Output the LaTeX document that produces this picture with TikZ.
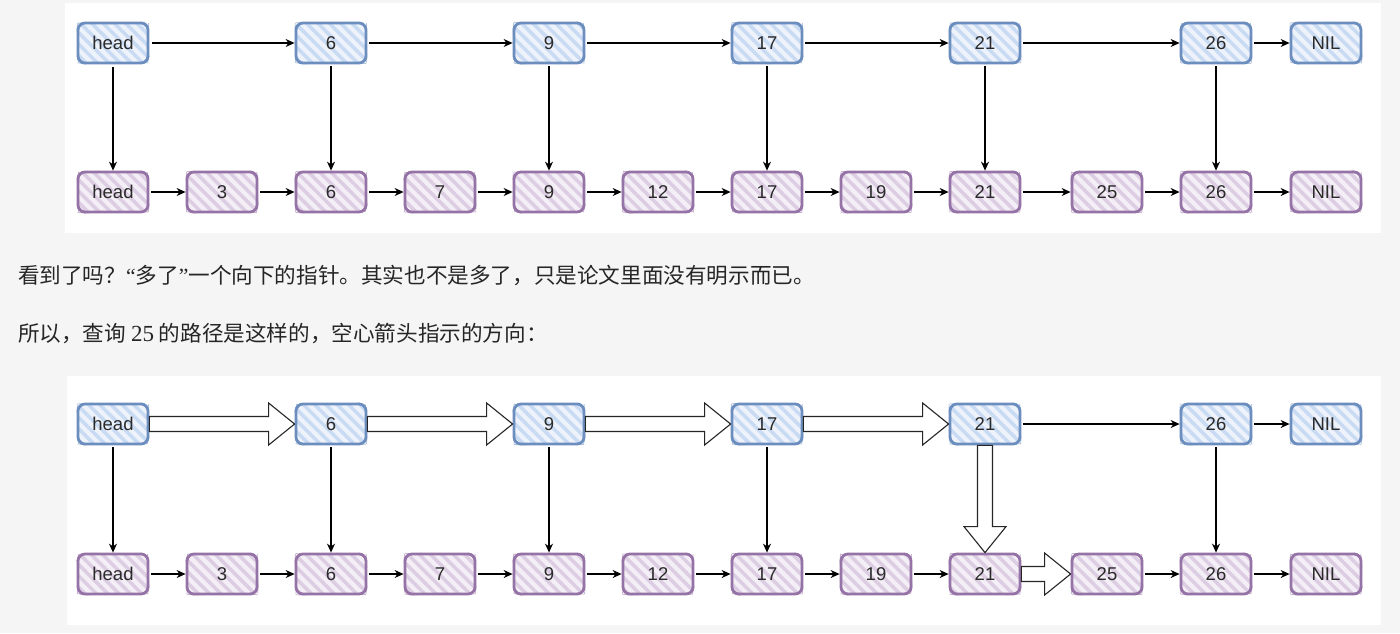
\documentclass[tikz,border=0pt]{standalone}
\usepackage{fontspec}
\setmainfont{Liberation Sans}
\newfontfamily\cjk{Noto Sans CJK SC}
\newfontfamily\qfont{Liberation Serif}
\usetikzlibrary{patterns.meta,decorations.pathmorphing,calc,arrows.meta}
\definecolor{bg}{HTML}{F5F5F5}
\definecolor{bluefill}{HTML}{C9DAF3}
\definecolor{bluebg}{HTML}{EEF3FB}
\definecolor{blueline}{HTML}{6C8EBF}
\definecolor{purfill}{HTML}{DCCDE3}
\definecolor{purbg}{HTML}{F4EFF6}
\definecolor{purline}{HTML}{9673A6}
\definecolor{txt}{HTML}{2A2A2A}
\pgfmathsetseed{7}
\tikzset{
  box/.style={minimum width=70pt, minimum height=40pt, inner sep=0pt,
    rounded corners=7pt, line width=2.8pt, text=txt,
    font=\fontsize{18.5}{18.5}\selectfont,
    postaction={draw, line width=0.8pt, rounded corners=7pt, opacity=0.5,
      decorate, decoration={random steps,segment length=7pt,amplitude=0.8pt}}},
  bnode/.style={box, draw=blueline, preaction={fill=bluebg},
    pattern={Lines[angle=-45,distance=8pt,line width=3.5pt]}, pattern color=bluefill},
  pnode/.style={box, draw=purline, preaction={fill=purbg},
    pattern={Lines[angle=-45,distance=8pt,line width=3.5pt]}, pattern color=purfill},
  conn/.style={-{Stealth[length=9pt,width=8pt]}, line width=1.1pt, black, shorten <=2pt},
  hollow/.style={draw=black!85, fill=white, line width=1.1pt, line join=miter},
  panel/.style={fill=white, draw=none},
  para/.style={anchor=west, text=black!85, font=\cjk\fontsize{21.6}{22}\selectfont, inner sep=0pt}
}
% hollow horizontal arrow from #1 (east) to #2 (west)
\newcommand\hollowH[2]{%
  \draw[hollow] let \p1=(#1.east), \p2=(#2.west) in
    (\x1,\y1+7.5pt) -- (\x2-26pt,\y1+7.5pt) -- (\x2-26pt,\y1+21pt) -- (\x2,\y1)
    -- (\x2-26pt,\y1-21pt) -- (\x2-26pt,\y1-7.5pt) -- (\x1,\y1-7.5pt) -- cycle;}
% hollow vertical arrow from #1 (south) to #2 (north)
\newcommand\hollowV[2]{%
  \draw[hollow] let \p1=(#1.south), \p2=(#2.north) in
    (\x1-7.5pt,\y1) -- (\x1-7.5pt,\y2+26pt) -- (\x1-21pt,\y2+26pt) -- (\x1,\y2)
    -- (\x1+21pt,\y2+26pt) -- (\x1+7.5pt,\y2+26pt) -- (\x1+7.5pt,\y1) -- cycle;}
% the nodes of one panel: #1 prefix, #2 top row y, #3 bottom row y
\newcommand\panelnodes[3]{%
  \node[bnode] (#1th) at (113,#2) {head};
  \node[bnode] (#1t6) at (331,#2) {6};
  \node[bnode] (#1t9) at (549,#2) {9};
  \node[bnode] (#1t17) at (767,#2) {17};
  \node[bnode] (#1t21) at (985,#2) {21};
  \node[bnode] (#1t26) at (1216,#2) {26};
  \node[bnode] (#1tn) at (1326,#2) {NIL};
  \node[pnode] (#1bh) at (113,#3) {head};
  \node[pnode] (#1b3) at (222,#3) {3};
  \node[pnode] (#1b6) at (331,#3) {6};
  \node[pnode] (#1b7) at (440,#3) {7};
  \node[pnode] (#1b9) at (549,#3) {9};
  \node[pnode] (#1b12) at (658,#3) {12};
  \node[pnode] (#1b17) at (767,#3) {17};
  \node[pnode] (#1b19) at (876,#3) {19};
  \node[pnode] (#1b21) at (985,#3) {21};
  \node[pnode] (#1b25) at (1107,#3) {25};
  \node[pnode] (#1b26) at (1216,#3) {26};
  \node[pnode] (#1bn) at (1326,#3) {NIL};
}
\begin{document}
\begin{tikzpicture}[x=1pt,y=-1pt]
\fill[bg] (0,0) rectangle (1400,633);
\useasboundingbox (0,0) rectangle (1400,633);
\fill[panel] (65,3) rectangle (1381,233);
\fill[panel] (67,376) rectangle (1381,625);

% ---------- panel 1 ----------
\panelnodes{a}{43}{192}
\foreach \u/\v in {th/t6,t6/t9,t9/t17,t17/t21,t21/t26,t26/tn,
  bh/b3,b3/b6,b6/b7,b7/b9,b9/b12,b12/b17,b17/b19,b19/b21,b21/b25,b25/b26,b26/bn}
  \draw[conn] (a\u.east) -- (a\v.west);
\foreach \u/\v in {th/bh,t6/b6,t9/b9,t17/b17,t21/b21,t26/b26}
  \draw[conn] (a\u.south) -- (a\v.north);

% ---------- text ----------
\node[para] (p1) at (18,275) {看到了吗？{\qfont “}多了{\qfont ”}一个向下的指针。其实也不是多了，只是论文里面没有明示而已。};
\node[para] (p2) at (18,333) {所以，查询 {\qfont\fontsize{23}{23}\selectfont 25} 的路径是这样的，空心箭头指示的方向：};

% ---------- panel 2 ----------
\panelnodes{c}{424}{574}
\foreach \u/\v in {t21/t26,t26/tn,
  bh/b3,b3/b6,b6/b7,b7/b9,b9/b12,b12/b17,b17/b19,b19/b21,b25/b26,b26/bn}
  \draw[conn] (c\u.east) -- (c\v.west);
\foreach \u/\v in {th/bh,t6/b6,t9/b9,t17/b17,t26/b26}
  \draw[conn] (c\u.south) -- (c\v.north);
\hollowH{cth}{ct6}
\hollowH{ct6}{ct9}
\hollowH{ct9}{ct17}
\hollowH{ct17}{ct21}
\hollowV{ct21}{cb21}
\hollowH{cb21}{cb25}
\end{tikzpicture}
\end{document}
